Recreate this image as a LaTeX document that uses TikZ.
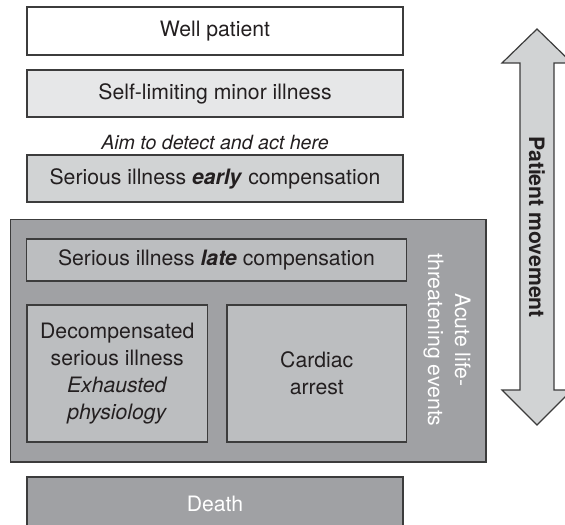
\documentclass[tikz,border=0pt]{standalone}
\usepackage{fontspec}
\setmainfont{TeX Gyre Heros}
\usetikzlibrary{positioning}
\definecolor{LightGrey}{HTML}{E6E7E8}
\definecolor{MidGrey}{HTML}{D1D3D4}
\definecolor{BoxGrey}{HTML}{BCBEC0}
\definecolor{DarkGrey}{HTML}{A0A1A4}
\definecolor{EdgeGrey}{HTML}{3C3C3C}
\definecolor{InkGrey}{HTML}{231F20}

\begin{document}
\begin{tikzpicture}[x=0.5pt,y=-0.5pt,
    txt/.style={text=InkGrey, font=\fontsize{10.6}{13.5}\selectfont, align=center},
    stage/.style={txt, draw=EdgeGrey, line width=0.6pt, inner sep=0pt, outer sep=0pt,
      minimum width=188pt, minimum height=24pt}]
  \useasboundingbox (0,0) rectangle (565,524);
  \clip (0,0) rectangle (565,524);
  % stages, well to serious
  \node[stage, fill=white] (well) at (215,31) {Well patient};
  \node[stage, fill=LightGrey, minimum height=23.5pt] (minor) at (215,93.5) {Self-limiting minor illness};
  \node[txt, font=\fontsize{9.8}{12}\selectfont] (aim) at (215,143) {\textit{Aim to detect and act here}};
  \node[stage, fill=MidGrey, minimum height=23.5pt] (early) at (215,178.5) {Serious illness \textbf{\textit{early}} compensation};
  % acute life-threatening block
  \node[stage, fill=DarkGrey, minimum width=237.65pt, minimum height=121.25pt] (acute) at (248.35,340.75) {};
  \node[stage, fill=BoxGrey, minimum width=189.75pt, minimum height=21pt] (late) at (216.5,260) {Serious illness \textbf{\textit{late}} compensation};
  \node[stage, fill=BoxGrey, minimum width=90.25pt, minimum height=68.5pt] (decomp) at (117.25,373.5)
    {Decompensated\\serious illness\\\textit{Exhausted}\\\textit{physiology}};
  \node[stage, fill=BoxGrey, minimum width=89.75pt, minimum height=68.5pt] (arrest) at (316.75,373.5) {Cardiac\\arrest};
  \node[txt, text=white, rotate=-90] (events) at (447,340) {Acute life-\\threatening events};
  % end stage, runs off the bottom edge
  \node[stage, fill=DarkGrey, text=white, minimum height=30pt] (death) at (215,507) {\raisebox{3.5pt}{Death}};
  % patient movement arrow
  \draw[draw=EdgeGrey, line width=0.6pt, fill=MidGrey] (537,29) -- (572,63) -- (554,63) -- (554,390)
    -- (572,390) -- (537,425) -- (502,390) -- (520,390) -- (520,63) -- (502,63) -- cycle;
  \node[txt, rotate=-90, font=\fontsize{10.6}{13.5}\selectfont\bfseries] (move) at (537,227) {Patient movement};
\end{tikzpicture}
\end{document}
